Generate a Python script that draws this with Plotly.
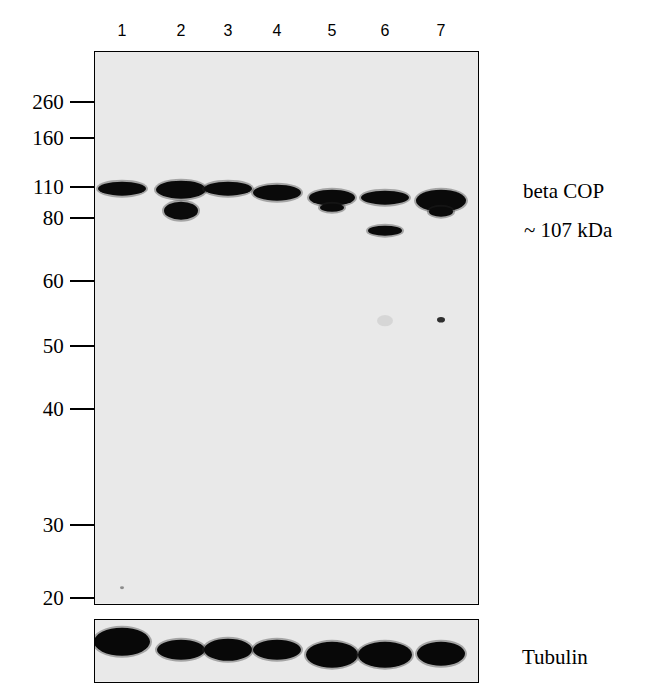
import plotly.graph_objects as go

lanes = ["1", "2", "3", "4", "5", "6", "7"]
lane_x = [122, 181, 228, 277, 332, 385, 441]
mw_labels = ["260", "160", "110", "80", "60", "50", "40", "30", "20"]
mw_pos = [102, 138, 187, 218, 281, 346, 409, 525, 598]

band_lane = [0, 1, 1, 2, 3, 4, 4, 5, 5, 6, 6]
band_y = [189, 190, 211, 189, 193, 198, 208, 198, 231, 201, 212]
band_w = [24, 25, 17, 24, 24, 23, 12, 24, 17, 25, 12]
band_h = [7, 9, 9, 7, 8, 8, 4, 7, 5, 11, 5]
dot_lane = [6, 0, 5]
dot_y = [320, 588, 321]
dot_r = [4, 2, 8]
dot_op = [0.8, 0.4, 0.08]

tub_y = [642, 650, 650, 650, 655, 655, 654]
tub_h = [14, 10, 11, 10, 13, 13, 12]
tub_w = [28, 24, 24, 24, 26, 27, 24]

OFF = 8
W, H = 650, 691

def px(x):
    return (x - OFF) / W

def py(y):
    y = 52 + (y - 52) * 1.009
    return 1 - (y - OFF) / H

fig = go.Figure()
fig.add_trace(go.Scatter(x=lane_x, y=[0]*7, mode="markers", marker=dict(opacity=0), xaxis="x", yaxis="y", showlegend=False, hoverinfo="skip"))
fig.add_trace(go.Scatter(x=lane_x, y=[0]*7, mode="markers", marker=dict(opacity=0), xaxis="x2", yaxis="y2", showlegend=False, hoverinfo="skip"))

shapes = []
for li, y, w, h in zip(band_lane, band_y, band_w, band_h):
    x = lane_x[li]
    shapes.append(dict(type="circle", xref="x", yref="y", x0=x-w-2, x1=x+w+2, y0=y-h-2, y1=y+h+2, fillcolor="rgba(40,40,40,0.35)", line_width=0))
    shapes.append(dict(type="circle", xref="x", yref="y", x0=x-w, x1=x+w, y0=y-h, y1=y+h, fillcolor="#0a0a0a", line_width=0))
for li, y, r, op in zip(dot_lane, dot_y, dot_r, dot_op):
    x = lane_x[li]
    shapes.append(dict(type="circle", xref="x", yref="y", x0=x-r, x1=x+r, y0=y-r*0.7, y1=y+r*0.7, fillcolor=f"rgba(0,0,0,{op})", line_width=0))
for x, y, h, w in zip(lane_x, tub_y, tub_h, tub_w):
    shapes.append(dict(type="circle", xref="x2", yref="y2", x0=x-w-2, x1=x+w+2, y0=y-h-2, y1=y+h+2, fillcolor="rgba(40,40,40,0.35)", line_width=0))
    shapes.append(dict(type="circle", xref="x2", yref="y2", x0=x-w, x1=x+w, y0=y-h, y1=y+h, fillcolor="#080808", line_width=0))

ax_common = dict(showgrid=False, zeroline=False, showline=True, linecolor="black", linewidth=1, mirror=True)
fig.update_layout(
    width=W, height=H, margin=dict(l=0, r=0, t=0, b=0),
    paper_bgcolor="white", plot_bgcolor="#e9e9e9", showlegend=False,
    font=dict(family="Liberation Serif", color="black", size=21),
    shapes=shapes,
    xaxis=dict(domain=[px(95), px(478)], range=[95, 478], side="top", tickvals=lane_x, ticktext=lanes,
               ticks="", ticklabelstandoff=8, tickfont=dict(family="Liberation Sans", size=16), anchor="y", **ax_common),
    yaxis=dict(domain=[py(604), py(52)], range=[604, 52], tickvals=mw_pos, ticktext=mw_labels,
               ticks="outside", ticklen=24, tickwidth=2, tickcolor="black", ticklabelstandoff=2, anchor="x", **ax_common),
    xaxis2=dict(domain=[px(95), px(478)], range=[95, 478], showticklabels=False, ticks="", anchor="y2", **ax_common),
    yaxis2=dict(domain=[py(682), py(620)], range=[682, 620], showticklabels=False, ticks="", anchor="x2", **ax_common),
    annotations=[
        dict(text="beta COP", xref="paper", yref="paper", x=px(563), y=py(191), showarrow=False, xanchor="center", yanchor="middle"),
        dict(text="~ 107 kDa", xref="paper", yref="paper", x=px(568), y=py(230), showarrow=False, xanchor="center", yanchor="middle"),
        dict(text="Tubulin", xref="paper", yref="paper", x=px(555), y=py(657), showarrow=False, xanchor="center", yanchor="middle"),
    ],
)
fig.write_html("out.html")
